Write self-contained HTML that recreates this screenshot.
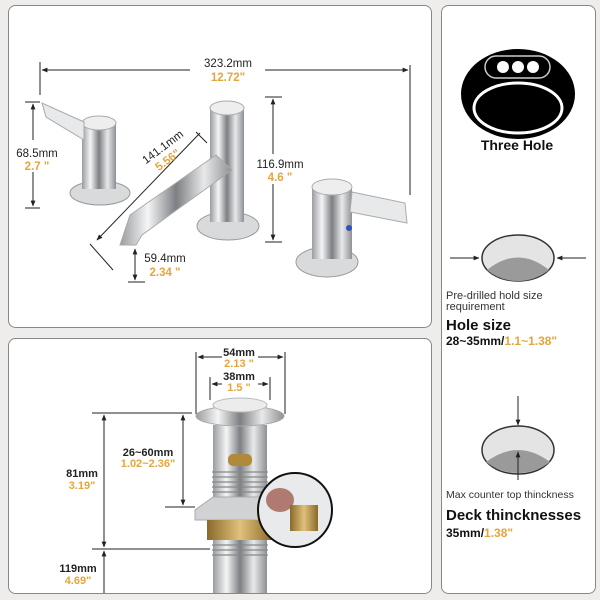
<!DOCTYPE html>
<html><head><meta charset="utf-8"><style>
html,body{margin:0;padding:0;background:#eeedeb;}
body{width:600px;height:600px;overflow:hidden;position:relative;font-family:"Liberation Sans",sans-serif;}
svg{position:absolute;left:0;top:0;}
text{font-family:"Liberation Sans",sans-serif;}
.k{fill:#222;font-size:11.5px;}
.o{fill:#e6a53a;font-size:11.5px;font-weight:bold;}
</style></head><body>
<svg width="600" height="600" viewBox="0 0 600 600">
<defs>
<linearGradient id="cr" x1="0" x2="1" y1="0" y2="0">
<stop offset="0" stop-color="#9a9c9f"/><stop offset=".25" stop-color="#f4f5f6"/><stop offset=".5" stop-color="#7c7f83"/><stop offset=".75" stop-color="#e8e9ea"/><stop offset="1" stop-color="#8d9094"/></linearGradient>
<linearGradient id="br" x1="0" x2="1"><stop offset="0" stop-color="#8a6a2a"/><stop offset=".5" stop-color="#e0c07a"/><stop offset="1" stop-color="#8a6a2a"/></linearGradient>
<marker id="a" viewBox="0 0 10 10" refX="9" refY="5" markerWidth="6" markerHeight="6" orient="auto-start-reverse"><path d="M0,1L10,5L0,9z" fill="#222"/></marker>
<clipPath id="bp"><rect x="9" y="339" width="422" height="254" rx="7"/></clipPath>
</defs>
<rect x="8.5" y="5.5" width="423" height="322" rx="7" fill="#fff" stroke="#888"/>
<rect x="8.5" y="338.5" width="423" height="255" rx="7" fill="#fff" stroke="#888"/>
<rect x="441.5" y="5.5" width="154" height="588" rx="7" fill="#fff" stroke="#888"/>

<!-- top dims -->
<g stroke="#222" stroke-width="1" fill="none">
<line x1="40" y1="62" x2="40" y2="95"/><line x1="410" y1="65" x2="410" y2="195"/>
<line x1="42" y1="70" x2="190" y2="70" marker-start="url(#a)"/><line x1="265" y1="70" x2="408" y2="70" marker-end="url(#a)"/>
<line x1="25" y1="102" x2="40" y2="102"/><line x1="25" y1="208" x2="40" y2="208"/>
<line x1="33" y1="104" x2="33" y2="140" marker-start="url(#a)"/><line x1="33" y1="172" x2="33" y2="206" marker-end="url(#a)"/>
<line x1="265" y1="97" x2="282" y2="97"/><line x1="265" y1="242" x2="282" y2="242"/>
<line x1="273" y1="99" x2="273" y2="154" marker-start="url(#a)"/><line x1="273" y1="184" x2="273" y2="240" marker-end="url(#a)"/>
<line x1="128" y1="282" x2="145" y2="282"/>
<line x1="135" y1="249" x2="135" y2="280" marker-start="url(#a)" marker-end="url(#a)"/>
<line x1="90" y1="244" x2="113" y2="270"/><line x1="97" y1="240" x2="200" y2="133" marker-start="url(#a)"/><line x1="196" y1="132" x2="207" y2="143"/>
</g>
<text x="228" y="67" class="k" text-anchor="middle">323.2mm</text>
<text x="228" y="81" class="o" text-anchor="middle">12.72"</text>
<text x="37" y="157" class="k" text-anchor="middle">68.5mm</text>
<text x="37" y="170" class="o" text-anchor="middle">2.7 "</text>
<text x="280" y="168" class="k" text-anchor="middle">116.9mm</text>
<text x="280" y="181" class="o" text-anchor="middle">4.6 "</text>
<text x="165" y="262" class="k" text-anchor="middle">59.4mm</text>
<text x="165" y="276" class="o" text-anchor="middle">2.34 "</text>
<text transform="translate(165,150) rotate(-37)" class="k" text-anchor="middle">141.1mm</text>
<text transform="translate(170,163) rotate(-37)" class="o" text-anchor="middle">5.56"</text>

<!-- faucet parts -->
<g>
<ellipse cx="100" cy="193" rx="30" ry="12" fill="#d8dadc" stroke="#999"/>
<rect x="82" y="123" width="34" height="66" fill="url(#cr)"/>
<ellipse cx="99" cy="123" rx="17" ry="7" fill="#eee" stroke="#aaa"/>
<polygon points="42,103 46,117 84,140 84,122" fill="#e8e9ea" stroke="#aaa"/>
<ellipse cx="228" cy="226" rx="31" ry="14" fill="#d8dadc" stroke="#999"/>
<rect x="210" y="108" width="34" height="114" fill="url(#cr)"/>
<ellipse cx="227" cy="108" rx="17" ry="7" fill="#eee" stroke="#aaa"/>
<polygon points="130,215 216,155 232,170 142,235 136,245 120,245" fill="url(#cr)" stroke="#aaa"/>
<ellipse cx="327" cy="262" rx="31" ry="15" fill="#d8dadc" stroke="#999"/>
<rect x="312" y="187" width="40" height="72" fill="url(#cr)"/>
<ellipse cx="332" cy="187" rx="20" ry="8" fill="#eee" stroke="#aaa"/>
<polygon points="352,192 405,203 407,223 350,212" fill="#e8e9ea" stroke="#aaa"/>
<circle cx="349" cy="228" r="3" fill="#3350c0"/>
</g>

<!-- right panel -->
<ellipse cx="518" cy="94" rx="57" ry="45" fill="#000"/>
<rect x="485" y="56" width="65" height="22" rx="11" fill="none" stroke="#ccc" stroke-width="1.5"/>
<circle cx="503" cy="67" r="6" fill="#fff"/><circle cx="518" cy="67" r="6" fill="#fff"/><circle cx="533" cy="67" r="6" fill="#fff"/>
<ellipse cx="518" cy="108" rx="44" ry="25" fill="none" stroke="#fff" stroke-width="3"/>
<text x="517" y="150" text-anchor="middle" style="font-size:14px;font-weight:bold;fill:#111">Three Hole</text>

<ellipse cx="518" cy="258" rx="36" ry="23" fill="#e4e4e4" stroke="#333" stroke-width="1.5"/>
<path d="M487,270 Q518,245 549,270 Q535,281 518,281 Q500,281 487,270z" fill="#9a9a9a"/>
<g stroke="#222" fill="none"><line x1="450" y1="258" x2="479" y2="258" marker-end="url(#a)"/><line x1="586" y1="258" x2="557" y2="258" marker-end="url(#a)"/></g>
<text x="446" y="299" style="font-size:11px;fill:#333">Pre-drilled hold size</text>
<text x="446" y="310" style="font-size:11px;fill:#333">requirement</text>
<text x="446" y="330" style="font-size:15px;font-weight:bold;fill:#111">Hole size</text>
<text x="446" y="345" style="font-size:12px;font-weight:bold;fill:#111">28~35mm/<tspan fill="#e6a53a">1.1~1.38"</tspan></text>

<ellipse cx="518" cy="450" rx="36" ry="24" fill="#e4e4e4" stroke="#333" stroke-width="1.5"/>
<path d="M486,462 Q518,438 550,462 Q536,473 518,473 Q500,473 486,462z" fill="#9a9a9a"/>
<g stroke="#222" fill="none"><line x1="518" y1="396" x2="518" y2="425" marker-end="url(#a)"/><line x1="518" y1="480" x2="518" y2="452" marker-end="url(#a)"/></g>
<text x="446" y="498" style="font-size:10.5px;fill:#333">Max counter top thinckness</text>
<text x="446" y="520" style="font-size:15px;font-weight:bold;fill:#111">Deck thincknesses</text>
<text x="446" y="537" style="font-size:12px;font-weight:bold;fill:#111">35mm/<tspan fill="#e6a53a">1.38"</tspan></text>

<!-- drain -->
<g clip-path="url(#bp)">
<rect x="213" y="425" width="54" height="175" fill="url(#cr)"/>
<g stroke="#888" stroke-width="1.2">
<line x1="212" y1="472" x2="268" y2="472"/><line x1="212" y1="477" x2="268" y2="477"/><line x1="212" y1="482" x2="268" y2="482"/><line x1="212" y1="487" x2="268" y2="487"/><line x1="212" y1="492" x2="268" y2="492"/>
<line x1="212" y1="545" x2="268" y2="545"/><line x1="212" y1="550" x2="268" y2="550"/><line x1="212" y1="555" x2="268" y2="555"/>
</g>
<rect x="228" y="454" width="24" height="12" rx="5" fill="#b08a3a"/>
<polygon points="213,497 267,497 285,510 285,520 195,520 195,510" fill="#d0d2d4" stroke="#aaa"/>
<rect x="207" y="520" width="66" height="20" fill="url(#br)"/>
<line x1="104" y1="551" x2="104" y2="600" stroke="#222" marker-start="url(#a)"/>
</g>
<ellipse cx="240" cy="416" rx="44" ry="10" fill="url(#cr)" stroke="#aaa"/>
<ellipse cx="240" cy="405" rx="27" ry="7" fill="#ececec" stroke="#bbb"/>
<circle cx="295" cy="510" r="37" fill="#e8eaec" stroke="#111" stroke-width="2"/>
<ellipse cx="280" cy="500" rx="14" ry="12" fill="#b07a70"/>
<rect x="290" y="505" width="28" height="26" fill="url(#br)"/>

<g stroke="#222" stroke-width="1" fill="none">
<line x1="196" y1="352" x2="196" y2="414"/><line x1="285" y1="352" x2="285" y2="414"/>
<line x1="198" y1="357" x2="222" y2="357" marker-start="url(#a)"/><line x1="258" y1="357" x2="283" y2="357" marker-end="url(#a)"/>
<line x1="210" y1="377" x2="210" y2="400"/><line x1="270" y1="377" x2="270" y2="400"/>
<line x1="212" y1="384" x2="222" y2="384" marker-start="url(#a)"/><line x1="258" y1="384" x2="268" y2="384" marker-end="url(#a)"/>
<line x1="92" y1="413" x2="192" y2="413"/><line x1="165" y1="507" x2="195" y2="507"/><line x1="92" y1="549" x2="210" y2="549"/>
<line x1="104" y1="415" x2="104" y2="547" marker-start="url(#a)" marker-end="url(#a)"/>
<line x1="183" y1="415" x2="183" y2="505" marker-start="url(#a)" marker-end="url(#a)"/>
</g>
<text x="239" y="356" text-anchor="middle" style="font-size:11px;font-weight:bold;fill:#222">54mm</text>
<text x="239" y="367" text-anchor="middle" class="o" style="font-size:11px">2.13 "</text>
<text x="239" y="380" text-anchor="middle" style="font-size:11px;font-weight:bold;fill:#222">38mm</text>
<text x="239" y="391" text-anchor="middle" class="o" style="font-size:11px">1.5 "</text>
<text x="148" y="456" text-anchor="middle" style="font-size:11px;font-weight:bold;fill:#222">26~60mm</text>
<text x="148" y="467" text-anchor="middle" class="o" style="font-size:11px">1.02~2.36"</text>
<text x="82" y="477" text-anchor="middle" style="font-size:11px;font-weight:bold;fill:#222">81mm</text>
<text x="82" y="489" text-anchor="middle" class="o" style="font-size:11px">3.19"</text>
<text x="78" y="572" text-anchor="middle" style="font-size:11px;font-weight:bold;fill:#222">119mm</text>
<text x="78" y="584" text-anchor="middle" class="o" style="font-size:11px">4.69"</text>
</svg>
</body></html>
